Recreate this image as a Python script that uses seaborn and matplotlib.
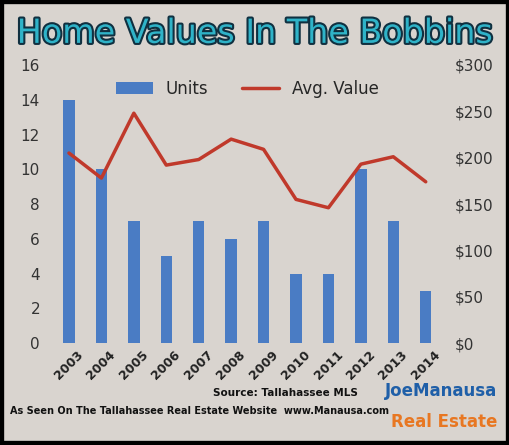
import matplotlib
matplotlib.use("Agg")
import matplotlib.pyplot as plt
import matplotlib.patheffects as pe
import seaborn as sns
import pandas as pd

years = ["2003","2004","2005","2006","2007","2008","2009","2010","2011","2012","2013","2014"]
units = [14, 10, 7, 5, 7, 6, 7, 4, 4, 10, 7, 3]
avg_value = [205, 178, 248, 192, 198, 220, 209, 155, 146, 193, 201, 174]

df = pd.DataFrame({"year": years, "units": units, "avg": avg_value})

sns.set_style("white")
plt.rcParams['font.family'] = ['DejaVu Sans']
fig = plt.figure(figsize=(5.1, 4.45), dpi=100)
fig.patch.set_facecolor("#d9d4cf")
ax = fig.add_axes([0.088, 0.229, 0.794, 0.625])
ax.set_facecolor("none")
sns.barplot(data=df, x="year", y="units", color="#4a7cc4", width=0.35, ax=ax,
            saturation=1, label="Units", linewidth=0)
ax.set_ylim(0, 16)
ax.set_yticks(range(0, 17, 2))
ax2 = ax.twinx()
sns.lineplot(x=range(len(years)), y=avg_value, color="#c0392b", lw=2.5, ax=ax2, label="Avg. Value")
ax2.set_ylim(0, 300)
ax2.set_yticks(range(0, 301, 50))
ax2.set_yticklabels([f"${v}" for v in range(0, 301, 50)])
ax2.get_legend().remove()
for a in (ax, ax2):
    for s in a.spines.values():
        s.set_visible(False)
    a.tick_params(length=0, labelsize=11, colors="#333333")
    a.set_xlabel(""); a.set_ylabel("")
ax.set_xticks(range(len(years)))
ax.set_xticklabels(years, rotation=45, fontsize=9, fontweight="bold", color="#222222")
h1, l1 = ax.get_legend_handles_labels()
h2, l2 = ax2.get_legend_handles_labels()
ax.legend(h1 + h2, l1 + l2, loc="upper center", bbox_to_anchor=(0.5, 1.0), ncol=2,
          frameon=False, fontsize=12, handlelength=2.2)

fig.text(0.5, 0.925, "Home Values In The Bobbins", ha="center", va="center", fontsize=24,
         color="#2fb3c8", path_effects=[pe.withStroke(linewidth=3, foreground="#103040")])
fig.text(0.56, 0.11, "Source: Tallahassee MLS", ha="center", fontsize=7.5, fontweight="bold", color="#111111")
fig.text(0.02, 0.07, "As Seen On The Tallahassee Real Estate Website  www.Manausa.com",
         fontsize=7, fontweight="bold", color="#111111")
fig.text(0.975, 0.11, "JoeManausa", ha="right", fontsize=12, fontweight="bold", color="#1f5fa8")
fig.text(0.975, 0.04, "Real Estate", ha="right", fontsize=12, fontweight="bold", color="#e87722")
fig.add_artist(plt.Rectangle((0, 0), 1, 1, transform=fig.transFigure, fill=False, lw=6, ec="black"))
fig.savefig("out.png", dpi=100, facecolor=fig.get_facecolor())
